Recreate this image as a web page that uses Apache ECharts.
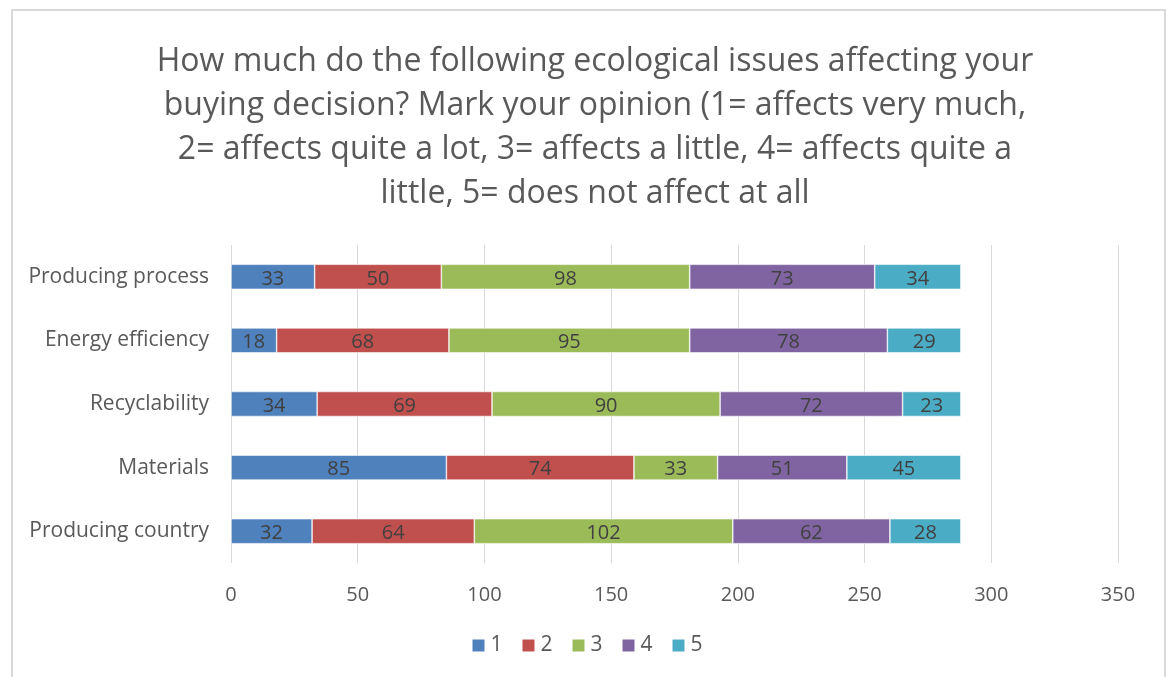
<!DOCTYPE html>
<html>
<head>
<meta charset="utf-8">
<script src="https://cdn.jsdelivr.net/npm/echarts@6/dist/echarts.min.js"></script>
<style>
  html, body { margin: 0; padding: 0; background: #fff; }
  #chart { width: 1173px; height: 677px; }
</style>
</head>
<body>
<div id="chart"></div>
<script>
// Survey answers per ecological issue, stacked by rating (1..5)
const categories = ['Producing country', 'Materials', 'Recyclability', 'Energy efficiency', 'Producing process'];
const rating1 = [32, 85, 34, 18, 33];
const rating2 = [64, 74, 69, 68, 50];
const rating3 = [102, 33, 90, 95, 98];
const rating4 = [62, 51, 72, 78, 73];
const rating5 = [28, 45, 23, 29, 34];
const seriesNames = ['1', '2', '3', '4', '5'];
const colors = ['#4F81BD', '#C0504D', '#9BBB59', '#8064A2', '#4BACC6'];
const titleText = 'How much do the following ecological issues affecting your\nbuying decision? Mark your opinion (1= affects very much,\n2= affects quite a lot, 3= affects a little, 4= affects quite a\nlittle, 5= does not affect at all';

const FONT = '"Open Sans", Lato, sans-serif';
const values = [rating1, rating2, rating3, rating4, rating5];

const chart = echarts.init(document.getElementById('chart'));
chart.setOption({
  animation: false,
  textStyle: { fontFamily: FONT },
  graphic: [{
    type: 'rect',
    shape: { x: 12, y: 10, width: 1153, height: 700 },
    style: { fill: 'none', stroke: '#d9d9d9', lineWidth: 2 },
    silent: true
  }],
  title: {
    text: titleText,
    left: 590,
    textAlign: 'center',
    top: 35,
    textStyle: { fontFamily: FONT, fontSize: 32, fontWeight: 'normal', color: '#595959', lineHeight: 44 }
  },
  legend: {
    bottom: 16,
    left: 'center',
    itemWidth: 14,
    itemHeight: 14,
    itemGap: 18,
    icon: 'rect',
    textStyle: { fontFamily: FONT, fontSize: 21, color: '#595959' },
    data: seriesNames
  },
  grid: { left: 231, right: 55, top: 245, height: 318, containLabel: false },
  xAxis: {
    type: 'value',
    min: 0, max: 350, interval: 50,
    axisLine: { show: false },
    axisTick: { show: false },
    splitLine: { lineStyle: { color: '#d9d9d9', width: 1 } },
    axisLabel: { fontFamily: FONT, fontSize: 20, color: '#595959', margin: 22 }
  },
  yAxis: {
    type: 'category',
    data: categories,
    axisLine: { show: false },
    axisTick: { show: false },
    axisLabel: { fontFamily: FONT, fontSize: 21, color: '#595959', margin: 22, padding: [4, 0, 0, 0] }
  },
  series: seriesNames.map((name, i) => ({
    name: name,
    type: 'bar',
    stack: 'total',
    barWidth: 25,
    data: values[i],
    itemStyle: { color: colors[i], borderColor: '#ffffff', borderWidth: 0.6 },
    label: {
      show: true,
      position: 'inside',
      offset: [0, 2],
      fontFamily: FONT,
      fontSize: 20,
      color: '#404040'
    }
  }))
});
</script>
</body>
</html>
